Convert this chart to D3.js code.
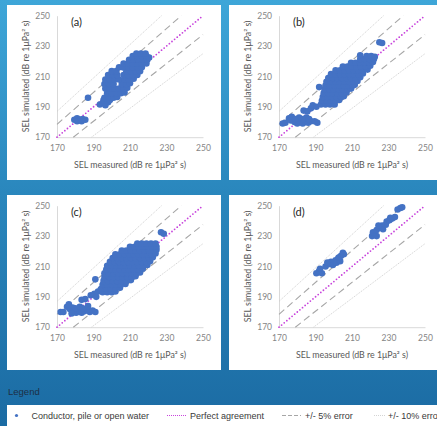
<!DOCTYPE html>
<html>
<head>
<meta charset="utf-8">
<script src="https://cdn.jsdelivr.net/npm/d3@7"></script>
<style>
  html, body { margin: 0; padding: 0; overflow: hidden; }
  svg { display: block; }
</style>
</head>
<body>
<svg id="chart" width="437" height="426"></svg>
<script>
// axis ticks (dB re 1uPa^2 s)
const tickValues = [170, 190, 210, 230, 250];
const panelLabels = ["(a)", "(b)", "(c)", "(d)"];

// reference lines: perfect agreement, +/-5 %, +/-10 %
const refFactors = [1, 1.05, 0.95, 1.1, 0.9];
const refKinds = ["perfect", "five", "five", "ten", "ten"];

// [measured, simulated]
const pointsA = [
  [179.5,181.5],[181,182.5],[182.5,181.5],[184,182],[185.5,181.5],[181,180.5],[183.5,180.5],
  [187,196],
  [193.5,191.5],[195,192.5],[196.5,191],[195.5,194.5],[198,193],[197,195.5],[199,194.5],
  [196,196],[198.5,196],[201,196],[203,196.5],
  [197.5,199],[200,199],[202.5,199],[205,199],[207,199.5],
  [196.5,202],[199,202],[201.5,202],[204,202],[206.5,202],[208.5,202.5],
  [196,205],[198.5,205],[201,205],[205.5,205],[208,205],[210,205.5],
  [196.5,208],[199,208],[201.5,208],[204,208],[207,208],[209.5,208],[212,208.5],
  [198,211],[200.5,211],[203,211],[206.5,211],[209,211],[211.5,211],[214,211],
  [200,213.5],[202.5,213.5],[208,213.5],[210.5,213.5],[213,213.5],[215.5,213.5],
  [204,216],[206,216],[209,216],[211.5,216],[214,216],[216.5,216],
  [206.5,218.5],[209,218.5],[211.5,218.5],[214,218.5],[216.5,218.5],[219,218.5],
  [209.5,221],[212,221],[214.5,221],[217,221],[219.5,221],
  [211.5,223.5],[214,223.5],[216.5,223.5],[219,223.5],[220.5,222.5],
  [213.5,225],[216,225],[218.5,225]
];

const pointsB = [
  [172,179],[173.5,179.5],
  [175.5,182.5],[177,183.5],[176.5,181],[178.5,180],[180,179],[181.5,180.5],[183,179],
  [184.5,180],[186,179.5],[187.5,180.5],[189.5,180.5],[191,179.5],[183,182],[185,183],
  [181,183],[179,182],[186.5,182],
  [183.5,187.5],[185.5,187],[187.5,189],[188.5,191],[190.5,190],
  [192,203],
  [193,191.5],[195.5,191.5],[198,191.5],[200.5,191.5],
  [193.5,194],[196,194],[198.5,194],[201,194],[203,194.5],
  [194,196.5],[196.5,196.5],[199,196.5],[201.5,196.5],[204,196.5],[205.5,197],
  [194.5,199],[197,199],[199.5,199],[202,199],[204.5,199],[207,199.5],
  [195,201.5],[197.5,201.5],[200,201.5],[202.5,201.5],[205,201.5],[207.5,201.5],[209.5,202],
  [195.5,204],[198,204],[200.5,204],[203,204],[205.5,204],[208,204],[210.5,204],[211.5,204.5],
  [196,206.5],[198.5,206.5],[201,206.5],[203.5,206.5],[206,206.5],[208.5,206.5],[211,206.5],[213,207],
  [197,209],[199.5,209],[202,209],[204.5,209],[207,209],[209.5,209],[212,209],[214.5,209.5],
  [198.5,211.5],[201,211.5],[203.5,211.5],[206,211.5],[208.5,211.5],[211,211.5],[213.5,211.5],[216,212],
  [201,214],[203.5,214],[206,214],[208.5,214],[211,214],[213.5,214],[216,214],[218.5,214.5],
  [205,216.5],[207.5,216.5],[210,216.5],[212.5,216.5],[215,216.5],[217.5,216.5],[220,217],
  [209.5,219],[212,219],[214.5,219],[217,219],[219.5,219],[221.5,219.5],
  [214.5,221.5],[217,221.5],[219.5,221.5],[222,221.5],
  [218,223.5],[220.5,223.5],[222.5,223],[214.5,224],
  [225,232.5],[226.5,232]
];

const pointsC = [
  [172,180],[173.5,180],
  [175.5,183.5],[177,182],[176.5,185],[178.5,183],[179,180.5],[180.5,179.5],[182,181],
  [183.5,179.5],[185,180.5],[186.5,182],[188,180],[189.5,181],[191,180],[180,182.5],
  [182.5,183.5],[184,182.5],[187,184],[178,179],
  [183.5,188],[185.5,188.5],[188.5,191],[190.5,192],[191.5,190],
  [191,201.5],[192.5,193.5],[194,195],
  [195,193],[197.5,193],[200,193],[202,193.5],
  [194.5,195.5],[197,195.5],[199.5,195.5],[202,195.5],[204.5,196],
  [195,198],[197.5,198],[200,198],[202.5,198],[205,198],[207.5,198.5],
  [195.5,200.5],[198,200.5],[200.5,200.5],[203,200.5],[205.5,200.5],[208,200.5],[210.5,201],
  [196,203],[198.5,203],[201,203],[203.5,203],[206,203],[208.5,203],[211,203],[213,203.5],
  [196,205.5],[198.5,205.5],[201,205.5],[203.5,205.5],[206,205.5],[208.5,205.5],[211,205.5],[213.5,205.5],[215.5,206],
  [197,208],[199.5,208],[202,208],[204.5,208],[207,208],[209.5,208],[212,208],[214.5,208],[217,208.5],
  [197.5,210.5],[200,210.5],[202.5,210.5],[205,210.5],[207.5,210.5],[210,210.5],[212.5,210.5],[215,210.5],[217.5,210.5],[219.5,211],
  [199,213],[201.5,213],[204,213],[206.5,213],[209,213],[211.5,213],[214,213],[216.5,213],[219,213],[221,213.5],
  [200.5,215.5],[203,215.5],[205.5,215.5],[208,215.5],[210.5,215.5],[213,215.5],[215.5,215.5],[218,215.5],[220.5,215.5],[222.5,216],
  [202,218],[204.5,218],[207,218],[209.5,218],[212,218],[214.5,218],[217,218],[219.5,218],[222,218],[224,218.5],
  [205.5,220.5],[208,220.5],[210.5,220.5],[213,220.5],[215.5,220.5],[218,220.5],[220.5,220.5],[223,220.5],[224.5,221],
  [210,223],[212.5,223],[215,223],[217.5,223],[220,223],[222.5,223],[224.5,223],
  [214,225],[216.5,225],[219,225],[221.5,225],[224,225],
  [227,232.5],[228.5,231.5]
];

const pointsD = [
  [190.5,205.5],[192,207],[193.5,205.5],[192.5,208.5],
  [195.5,210],[197,211.5],[198.5,213],[196.5,212.5],[199.5,211],
  [201,214],[202.5,215.5],[201.5,212.5],[203.5,213.5],[204,217],[205,219],[203,216],[205.5,218],
  [221,230],[222.5,231.5],[221.5,232.5],[223.5,230],
  [223.5,234],[225,235.5],[226.5,237],[227,234.5],[228.5,237.5],[224.5,237],
  [229,239.5],[230.5,240.5],[232,241.5],[233.5,242.5],[231,242],
  [235,247.5],[236.5,248.5],[237.5,249]
];

const allPoints = [pointsA, pointsB, pointsC, pointsD];

// legend entries
const legendNames = ["Conductor, pile or open water", "Perfect agreement", "+/- 5% error", "+/- 10% error"];

const W = 437, H = 426;
const pointColor = "#4472c4";
const lineStyles = {
  perfect: { stroke: "#c844dc", width: 1.8, dash: "0,3.4", cap: "round" },
  five: { stroke: "#a6a6a6", width: 1.1, dash: "7,4", cap: "butt" },
  ten: { stroke: "#cfcfcf", width: 0.9, dash: "1.2,1", cap: "butt" }
};

const svg = d3.select("#chart");
const defs = svg.append("defs");

const grad = defs.append("linearGradient")
  .attr("id", "bg").attr("x1", 0).attr("y1", 0).attr("x2", 0).attr("y2", 1);
grad.append("stop").attr("offset", "0%").attr("stop-color", "#3ea6d8");
grad.append("stop").attr("offset", "45%").attr("stop-color", "#2a87bd");
grad.append("stop").attr("offset", "100%").attr("stop-color", "#1b6ba3");

svg.append("rect").attr("width", W).attr("height", H).attr("fill", "url(#bg)");

// panel boxes
const panels = [
  { x: 7, y: 5, w: 214, h: 175 },
  { x: 229, y: 5, w: 208, h: 175 },
  { x: 7, y: 195, w: 214, h: 175 },
  { x: 229, y: 195, w: 208, h: 175 }
];

const plotW = 146, plotH = 121.5;
const x = d3.scaleLinear().domain([170, 250]).range([0, plotW]);
const y = d3.scaleLinear().domain([170, 250]).range([plotH, 0]);

defs.append("clipPath").attr("id", "plotclip")
  .append("rect").attr("x", -1).attr("y", -1).attr("width", plotW + 2).attr("height", plotH + 2);

const chartFont = "Lato, 'Open Sans', sans-serif";

panels.forEach((p, i) => {
  svg.append("rect")
    .attr("x", p.x).attr("y", p.y).attr("width", p.w).attr("height", p.h)
    .attr("fill", "#ffffff");

  const g = svg.append("g")
    .attr("transform", `translate(${p.x + 50}, ${p.y + 10.7})`);

  // axes
  const xAxis = g.append("g")
    .attr("transform", `translate(0, ${plotH})`)
    .call(d3.axisBottom(x).tickValues(tickValues).tickSize(0).tickSizeOuter(0).tickPadding(8));
  const yAxis = g.append("g")
    .call(d3.axisLeft(y).tickValues(tickValues).tickSize(0).tickSizeOuter(0).tickPadding(7));

  [xAxis, yAxis].forEach(ax => {
    ax.select(".domain").attr("stroke", "#d9d9d9").attr("stroke-width", 1);
    ax.selectAll("text")
      .attr("fill", "#858585")
      .style("font-family", chartFont)
      .style("font-size", "8.5px");
  });

  // reference lines
  const lines = g.append("g").attr("clip-path", "url(#plotclip)");
  refFactors.forEach((f, k) => {
    const s = lineStyles[refKinds[k]];
    const x0 = Math.max(170, 170 / f), x1 = Math.min(250, 250 / f);
    lines.append("line")
      .attr("x1", x(x0)).attr("y1", y(x0 * f))
      .attr("x2", x(x1)).attr("y2", y(x1 * f))
      .attr("stroke", s.stroke)
      .attr("stroke-width", s.width)
      .attr("stroke-dasharray", s.dash)
      .attr("stroke-linecap", s.cap);
  });

  // points
  g.append("g")
    .selectAll("circle")
    .data(allPoints[i])
    .join("circle")
    .attr("cx", d => x(d[0]))
    .attr("cy", d => y(d[1]))
    .attr("r", 3.3)
    .attr("fill", pointColor);

  // panel label
  g.append("text")
    .attr("x", 14).attr("y", 10)
    .attr("fill", "#262626")
    .style("font-family", chartFont)
    .style("font-size", "11px")
    .text(panelLabels[i]);

  // axis titles
  g.append("text")
    .attr("x", plotW / 2).attr("y", plotH + 31)
    .attr("text-anchor", "middle")
    .attr("fill", "#595959")
    .style("font-family", chartFont)
    .style("font-size", "8.8px")
    .text("SEL measured (dB re 1μPa² s)");

  g.append("text")
    .attr("transform", `translate(-28, ${plotH / 2}) rotate(-90)`)
    .attr("text-anchor", "middle")
    .attr("fill", "#595959")
    .style("font-family", chartFont)
    .style("font-size", "8.8px")
    .text("SEL simulated (dB re 1μPa² s)");
});

// legend
const legendFont = "'Liberation Sans', Arial, sans-serif";
svg.append("text")
  .attr("x", 8).attr("y", 395)
  .attr("fill", "#1d2f45")
  .style("font-family", legendFont)
  .style("font-size", "9.5px")
  .text("Legend");

svg.append("rect")
  .attr("x", 7).attr("y", 405).attr("width", W - 7).attr("height", H - 405)
  .attr("fill", "#ffffff");

const legendY = 415.5;
const legendItems = [
  { kind: "point", sx: 14, ex: 19, tx: 31.5 },
  { kind: "perfect", sx: 167, ex: 187, tx: 190 },
  { kind: "five", sx: 282, ex: 301, tx: 305 },
  { kind: "ten", sx: 374, ex: 386, tx: 388 }
];

const leg = svg.append("g");
legendItems.forEach((it, k) => {
  if (it.kind === "point") {
    leg.append("circle")
      .attr("cx", (it.sx + it.ex) / 2).attr("cy", legendY)
      .attr("r", 1.6).attr("fill", pointColor);
  } else {
    const s = lineStyles[it.kind];
    leg.append("line")
      .attr("x1", it.sx).attr("x2", it.ex)
      .attr("y1", legendY).attr("y2", legendY)
      .attr("stroke", s.stroke)
      .attr("stroke-width", it.kind === "perfect" ? 1 : s.width)
      .attr("stroke-dasharray", it.kind === "five" ? "4,2" : "1,1")
      .attr("stroke-linecap", "butt");
  }
  leg.append("text")
    .attr("x", it.tx).attr("y", legendY)
    .attr("dy", "0.35em")
    .attr("fill", "#3a3a3a")
    .style("font-family", legendFont)
    .style("font-size", "9px")
    .text(legendNames[k]);
});
</script>
</body>
</html>
